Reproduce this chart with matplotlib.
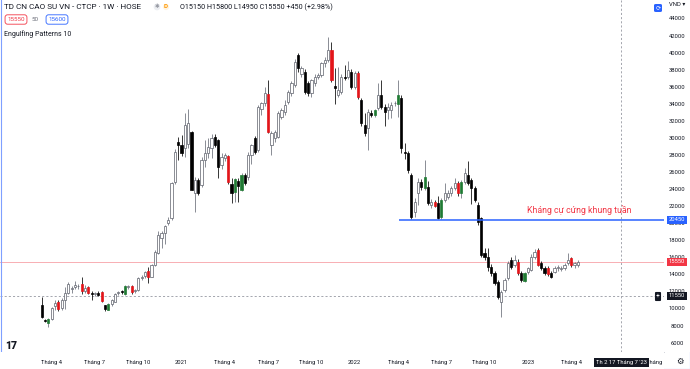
import numpy as np
import pandas as pd
import matplotlib
matplotlib.use('Agg')
import matplotlib.pyplot as plt
from matplotlib.patches import FancyBboxPatch

plt.rcParams['font.family'] = ['Roboto', 'DejaVu Sans']

# weekly candles, first bar on this monday
start_date = '2020-03-16'

opens = [10470, 8700, 8350, 8830, 10400, 10820, 10100, 11100, 11900, 12300,
         12550, 12650, 12900, 12100, 12550, 11900, 11750, 11900, 12000, 10470,
         9900, 10600, 10850, 11850, 12050, 11750, 12600, 12700, 12100, 12200,
         13600, 13850, 14500, 13800, 15150, 16550, 18300, 18900, 20100, 20650,
         24900, 29600, 29200, 28850, 29300, 30750, 23550, 25100, 24500, 27500,
         28250, 28850, 30200, 29800, 26900, 27700, 27900, 24650, 23750, 25000,
         23950, 25700, 25500, 28050, 30000, 28640, 33400, 34100, 35200, 29250,
         30000, 30200, 32550, 33100, 34300, 35300, 36260, 39800, 37600, 37800,
         36460, 35300, 36460, 37240, 37430, 38800, 39200, 40350, 36150, 35100,
         35480, 37240, 37240, 37820, 36060, 37630, 34500, 31570, 31180, 32950,
         32700, 33530, 35090, 33650, 33330, 33330, 34100, 34000, 34700, 28350,
         28250, 25700, 21350, 23560, 24920, 24140, 24340, 22200, 22600, 22390,
         20820, 22780, 23170, 23560, 24140, 24730, 23560, 24920, 25700, 25120,
         24140, 22200, 20630, 16540, 16130, 14960, 14180, 13200, 10850, 12230,
         13600, 15740, 15150, 15550, 14180, 13300, 14370, 14570, 16130, 16920,
         15350, 14770, 14800, 14180, 14370, 14770, 14700, 14770, 15350, 15940,
         15150, 15150]
highs = [11400, 8850, 8900, 10200, 11000, 11100, 11300, 12600, 13200, 12700,
         13300, 12900, 13750, 12800, 12700, 12050, 12000, 12100, 12150, 10500,
         10650, 11200, 11900, 12050, 12200, 12800, 12800, 12850, 12400, 13700,
         14000, 14400, 14960, 15300, 16900, 19150, 19200, 19800, 20800, 24850,
         28700, 30200, 30400, 32950, 33400, 30900, 25500, 25300, 27800, 29800,
         30000, 30500, 30500, 29900, 28300, 28300, 28100, 25400, 25400, 25400,
         25900, 26000, 28400, 29300, 30300, 33900, 34300, 36000, 36850, 30900,
         31000, 33200, 33600, 34500, 35700, 36700, 39300, 40000, 38500, 38100,
         36700, 37000, 37600, 37700, 39000, 39500, 41900, 41300, 38200, 38400,
         37500, 38600, 39100, 38100, 37900, 37900, 34700, 33000, 33400, 33300,
         33500, 36460, 36850, 34000, 34200, 34300, 34400, 36850, 35100, 29500,
         28500, 25900, 23000, 25300, 25200, 27500, 25000, 22900, 22800, 23300,
         23000, 24800, 23900, 24400, 25300, 25000, 25100, 26500, 27300, 25400,
         24400, 22500, 20800, 17100, 17100, 15300, 14500, 13400, 12200, 13600,
         15600, 16100, 16300, 15900, 14400, 14300, 14900, 16400, 17000, 17100,
         15600, 15000, 15000, 14500, 15000, 15200, 15000, 15400, 16530, 16100,
         15500, 15800]
lows = [9000, 8450, 7900, 8750, 9900, 9800, 9900, 10000, 11800, 11900,
        12300, 12400, 11800, 11900, 11700, 11050, 11500, 11500, 10850, 9800,
        9850, 10300, 10800, 11600, 11800, 11600, 12400, 11800, 11900, 12100,
        13400, 13600, 13100, 13700, 15000, 16400, 17200, 17600, 19900, 20400,
        24700, 27500, 27900, 27860, 28900, 23900, 21400, 23400, 24300, 26700,
        27700, 27670, 29000, 25300, 26400, 27300, 24700, 22400, 22500, 22600,
        23800, 24500, 25100, 27000, 28200, 28400, 32800, 33800, 30600, 28000,
        29600, 30000, 32300, 32800, 34000, 35000, 36000, 37800, 37200, 35200,
        35000, 34900, 36200, 37000, 37200, 38400, 38900, 36600, 34000, 34800,
        35200, 36800, 37000, 35800, 35800, 34600, 31500, 30300, 28640, 32500,
        32500, 33300, 33500, 31500, 32300, 32400, 33800, 32500, 28300, 27600,
        26000, 20500, 20800, 22150, 24000, 24000, 22200, 21800, 21900, 20500,
        20600, 22500, 22900, 23300, 23900, 23300, 23000, 24700, 24500, 22300,
        22500, 19800, 16100, 15800, 14500, 13900, 12800, 11200, 9070, 12000,
        13400, 14700, 14900, 14000, 13200, 13200, 14100, 14400, 15900, 15000,
        14600, 14000, 13900, 13600, 14200, 14500, 14400, 14600, 15200, 14900,
        14800, 14950]
closes = [9060, 8600, 8800, 10100, 10700, 10000, 11100, 11900, 12900, 12500,
          12800, 12700, 12050, 12500, 11850, 11800, 11800, 11650, 10900, 9960,
          10600, 11050, 11750, 11900, 11950, 12700, 12650, 11950, 12150, 13600,
          13800, 14300, 13800, 15150, 16700, 18700, 18900, 19700, 20450, 24750,
          28450, 29200, 28250, 31570, 31800, 23950, 25100, 23550, 27500, 28250,
          29000, 30000, 29230, 26700, 27850, 28050, 24900, 23550, 25200, 24400,
          25700, 24750, 28050, 29200, 28450, 33700, 34100, 35300, 30800, 30600,
          30800, 32950, 33330, 33900, 35480, 36460, 39000, 38200, 38200, 35480,
          35300, 36850, 37240, 37430, 38800, 39200, 40350, 36850, 35870, 35700,
          37240, 37050, 38020, 36060, 37630, 34890, 31770, 30600, 33130, 32750,
          33330, 35090, 33720, 33130, 33720, 33920, 34110, 35090, 28840, 28250,
          26300, 20820, 22540, 24920, 24340, 25510, 22390, 22590, 22100, 20630,
          22780, 23560, 23560, 24140, 24730, 23560, 24920, 25900, 24730, 24140,
          22780, 20250, 16330, 16130, 14960, 14180, 13010, 11440, 12030, 13400,
          15350, 14960, 15740, 14180, 13400, 14250, 14770, 16130, 16700, 15150,
          14770, 14180, 14100, 13790, 14770, 14960, 14750, 15150, 15740, 15150,
          15350, 15550]

# bars flagged by the Engulfing Patterns indicator
red_bars = [5, 12, 14, 18, 27, 32, 56, 68, 87, 95, 118, 125, 143, 149, 152, 159]
green_bars = [2, 20, 25, 58, 60, 100, 107, 115, 120, 126, 145]

price_ticks = list(range(6000, 46000, 2000))
resistance = 20450
resistance_start = 107
last_price = 15550
cross_price = 11550
cross_date = '2023-07-17'
# 2023-07 label sits under the crosshair date box, so it is left out
tick_months = ['2020-04', '2020-07', '2020-10', '2021-01', '2021-04', '2021-07',
               '2021-10', '2022-01', '2022-04', '2022-07', '2022-10', '2023-01',
               '2023-04', '2023-10']

W, H = 690, 369
PW, PH = 664, 352  # chart pane in pixels


def fx(px):
    return px / W


def fy(py):
    return 1 - py / H


fig = plt.figure(figsize=(W / 100, H / 100), dpi=100)
fig.patch.set_facecolor('white')

ax = fig.add_axes([0, fy(PH), fx(PW), PH / H])
xlim = (-41.7 / 3.33, (PW - 41.7) / 3.33)
ylim = (44000 - (PH - 19) * 117.25, 44000 + 19 * 117.25)
ax.set_xlim(*xlim)
ax.set_ylim(*ylim)
ax.set_xticks([])
ax.set_yticks([])
for s in ['top', 'left', 'bottom']:
    ax.spines[s].set_visible(False)
ax.spines['right'].set_color('#c9ccd4')
ax.spines['right'].set_linewidth(0.6)

dates = pd.date_range(start_date, periods=len(opens), freq='7D')
x = np.arange(len(opens))
o, hi, lo, c = (np.array(v, dtype=float) for v in (opens, highs, lows, closes))
up = c >= o

body_col = np.where(up, 'white', 'black').astype(object)
edge_col = np.where(up, '#5d606b', 'black').astype(object)
wick_col = np.where(up, '#6a6d78', '#000000').astype(object)
for i in red_bars:
    body_col[i] = '#e3151a'
    edge_col[i] = '#e3151a'
for i in green_bars:
    body_col[i] = '#1f7a33'
    edge_col[i] = '#1f7a33'

ax.vlines(x, lo, hi, colors=list(wick_col), lw=0.55, zorder=2)
ax.bar(x, np.maximum(np.abs(c - o), 90), bottom=np.minimum(o, c), width=0.66,
       color=list(body_col), edgecolor=list(edge_col), linewidth=0.5, zorder=3)

# resistance line + note
ax.hlines(resistance, resistance_start + 0.3, xlim[1], color='#2962ff', lw=1.1, zorder=4)
ax.text(145.7, 21650, 'Kháng cự cứng khung tuần', color='#f23645', fontsize=6.3,
        ha='left', va='center', zorder=5)

# last price and crosshair
ax.axhline(last_price, color='#f7a1a7', lw=0.6, zorder=1)
ax.axhline(cross_price, color='#9598a1', lw=0.6, ls=(0, (2.5, 2.5)), zorder=1)
cross_x = (pd.Timestamp(cross_date) - dates[0]).days / 7
ax.axvline(cross_x, color='#9598a1', lw=0.6, ls=(0, (2.5, 2.5)), zorder=1)

# small icon near top right of pane
ax.add_patch(FancyBboxPatch((fx(654), fy(12)), fx(8), 8 / H, boxstyle='round,pad=0,rounding_size=0.003',
                            transform=fig.transFigure, facecolor='#2962ff', edgecolor='none',
                            zorder=6, clip_on=False))
fig.text(fx(658), fy(8), '⟳', color='white', fontsize=4.5, ha='center', va='center',
         family=['DejaVu Sans'], zorder=7)

# crosshair "+" button
fig.text(fx(658), fy(296.5), '+', color='white', fontsize=5, ha='center', va='center',
         bbox=dict(boxstyle='round,pad=0.15', fc='#131722', ec='none'), zorder=7)

# price scale
axp = fig.add_axes([fx(PW), fy(PH), fx(W - PW), PH / H], zorder=3)
axp.set_ylim(*ylim)
axp.set_xlim(0, 1)
axp.set_xticks([])
axp.set_yticks([])
for s in axp.spines.values():
    s.set_visible(False)
for p in price_ticks:
    if p > 44500:
        continue
    axp.text(0.5, p, str(p), fontsize=4.2, color='#131722', ha='center', va='center')
axp.text(0.5, 44000 + 15 * 117.25, 'VND ▾', fontsize=4.2, color='#131722', ha='center', va='center',
         family=['Roboto', 'DejaVu Sans'])
label_boxes = [(resistance, '#2962ff'), (last_price, '#f23645'), (cross_price, '#131722')]
for val, col in label_boxes:
    axp.text(0.5, val, str(val), fontsize=4.2, color='white', ha='center', va='center', zorder=5,
             bbox=dict(boxstyle='square,pad=0.25', fc=col, ec='none'))

# time scale
axt = fig.add_axes([0, 0, fx(PW), fy(PH)], zorder=2)
axt.set_xlim(*xlim)
axt.set_ylim(0, 1)
axt.set_xticks([])
axt.set_yticks([])
for s in axt.spines.values():
    s.set_visible(False)
for m in tick_months:
    first = pd.Timestamp(m + '-01')
    pos = np.ceil((first - dates[0]).days / 7)
    lab = str(first.year) if first.month == 1 else f'Tháng {first.month}'
    axt.text(pos, 0.4, lab, fontsize=4.2, color='#131722', ha='center', va='center', clip_on=True)
axt.text(cross_x, 0.4, "Th 2 17 Tháng 7 '23", fontsize=4.2, color='white', ha='center', va='center',
         zorder=5, bbox=dict(boxstyle='square,pad=0.35', fc='#131722', ec='none'))

# corner with gear
fig.text(fx(680), fy(361), '⚙', fontsize=6, color='#131722', ha='center', va='center',
         family=['DejaVu Sans'])

# TradingView logo
fig.text(fx(5), fy(346), '17', fontsize=7.5, fontweight='black', color='#131722',
         ha='left', va='center')

# legend / header
fig.text(fx(4), fy(7), 'TD CN CAO SU VN - CTCP · 1W · HOSE', fontsize=5.9, color='#131722',
         ha='left', va='center')
fig.text(fx(157), fy(7), '✱', fontsize=4, color='#9598a1', ha='center', va='center',
         family=['DejaVu Sans'], bbox=dict(boxstyle='circle,pad=0.15', fc='#eceef2', ec='none'))
fig.text(fx(166), fy(7), 'D', fontsize=4.5, color='#ff9800', fontweight='bold', ha='center', va='center',
         bbox=dict(boxstyle='circle,pad=0.1', fc='#fff3e0', ec='none'))
fig.text(fx(180), fy(7), 'O15150 H15800 L14950 C15550 +450 (+2.98%)', fontsize=5.2, color='#131722',
         ha='left', va='center')
fig.text(fx(16), fy(19.5), '15550', fontsize=4.5, color='#f23645', ha='center', va='center',
         bbox=dict(boxstyle='round,pad=0.35,rounding_size=0.4', fc='white', ec='#f23645', lw=0.6))
fig.text(fx(35), fy(19.5), '50', fontsize=4.5, color='#6a6d78', ha='center', va='center')
fig.text(fx(57), fy(19.5), '15600', fontsize=4.5, color='#2962ff', ha='center', va='center',
         bbox=dict(boxstyle='round,pad=0.35,rounding_size=0.4', fc='white', ec='#2962ff', lw=0.6))
fig.text(fx(4), fy(34), 'Engulfing Patterns 10', fontsize=5.0, color='#131722', ha='left', va='center')

# pane selection frame
for seg in [([0.5, 0.5], [0, H]), ([W - 0.5, W - 0.5], [0, H]), ([0, W], [H - 0.5, H - 0.5])]:
    fig.add_artist(plt.Line2D([fx(v) for v in seg[0]], [fy(v) for v in seg[1]],
                              color='#7fa0ff', lw=0.8, transform=fig.transFigure))

fig.savefig('out.png', dpi=100, facecolor='white')
